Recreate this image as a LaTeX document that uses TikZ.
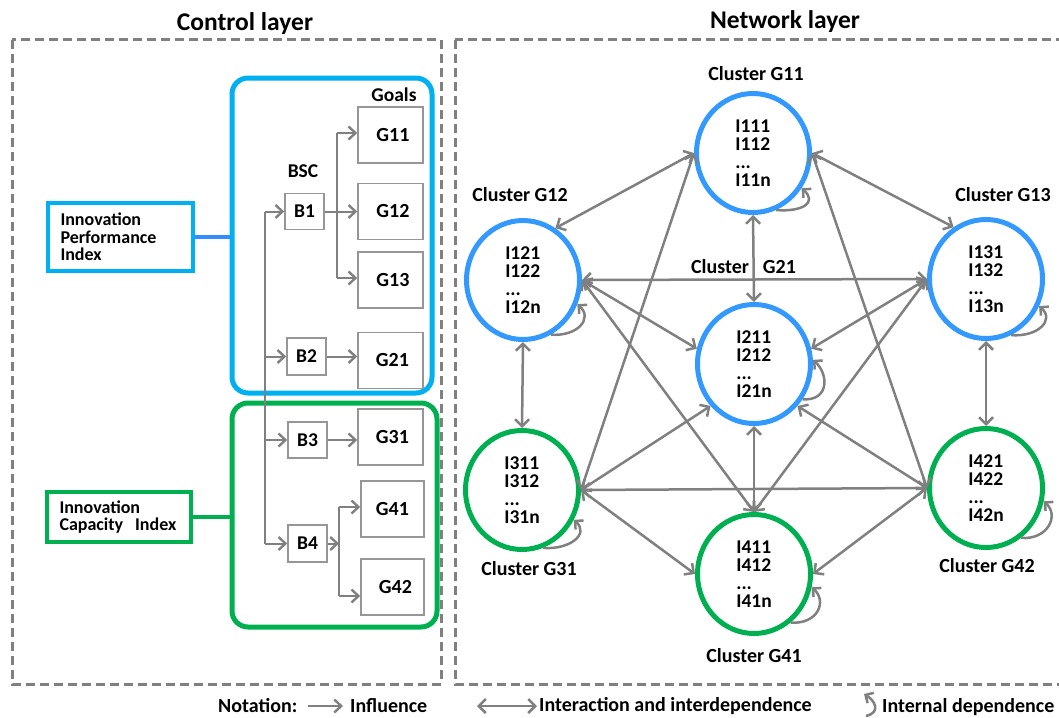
\documentclass[tikz,border=0pt]{standalone}
\usepackage{fontspec}
\setmainfont{Carlito}
\usetikzlibrary{arrows.meta,shapes.geometric,calc}
\definecolor{ctrlblue}{RGB}{0,176,240}
\definecolor{linkblue}{RGB}{51,140,255}
\definecolor{clblue}{RGB}{51,153,255}
\definecolor{clgreen}{RGB}{0,176,80}
\definecolor{edgegray}{RGB}{128,128,128}
\definecolor{boxgray}{RGB}{150,150,150}

\begin{document}
\begin{tikzpicture}[x=1pt,y=-1pt,
  font=\bfseries,
  layerbox/.style={draw=edgegray, line width=3pt, dash pattern=on 9pt off 5pt},
  title/.style={inner sep=0pt, font=\bfseries\fontsize{25.5}{28}\selectfont},
  plain/.style={inner sep=0pt, font=\bfseries\fontsize{19.5}{21}\selectfont},
  goalbox/.style={draw=boxgray, line width=1.5pt, minimum width=65pt, minimum height=56pt,
    inner sep=0pt, font=\bfseries\fontsize{20}{22}\selectfont},
  bscbox/.style={draw=boxgray, line width=1.5pt, minimum width=39pt, minimum height=36pt,
    inner sep=0pt, font=\bfseries\fontsize{19.5}{21}\selectfont},
  groupbox/.style={rectangle, rounded corners=16pt, line width=5pt},
  indexbox/.style={line width=4pt, inner xsep=13pt, inner ysep=0pt, text width=119pt,
    align=left, font=\bfseries\fontsize{18}{17.5}\selectfont},
  trunk/.style={draw=edgegray, line width=1.6pt},
  flow/.style={draw=edgegray, line width=2pt, -{Straight Barb[length=7pt,width=13pt,line width=2.4pt]}},
  link/.style={draw=edgegray, line width=2.5pt,
    {Straight Barb[length=7pt,width=14pt]}-{Straight Barb[length=7pt,width=14pt]}},
  selfloop/.style={draw=edgegray, line width=2.5pt, -{Straight Barb[length=6pt,width=12pt]}},
  cluster/.style={ellipse, line width=5pt, minimum width=113pt, minimum height=119pt,
    inner sep=0pt, align=left, font=\bfseries\fontsize{19.5}{18}\selectfont},
  bluecl/.style={cluster, draw=clblue},
  greencl/.style={cluster, draw=clgreen},
  cltitle/.style={inner sep=0pt, font=\bfseries\fontsize{20}{21}\selectfont},
  notetext/.style={inner sep=0pt, anchor=west, font=\bfseries\fontsize{20}{22}\selectfont},
]
\useasboundingbox (0,0) rectangle (1059,717);

% ---------- layer frames ----------
\draw[layerbox] (12,40) rectangle (441,684);
\draw[layerbox] (455,40) rectangle (1075,684);
\node[title] (ctrltitle) at (245,24) {Control layer};
\node[title] (nettitle) at (785,22) {Network layer};

% ---------- control layer ----------
\node[groupbox, draw=ctrlblue, minimum width=200pt, minimum height=315pt] (perf) at (332,235.5) {};
\node[groupbox, draw=clgreen, minimum width=205pt, minimum height=224pt] (capa) at (334.5,515) {};

\node[indexbox, draw=ctrlblue, minimum height=68pt] (ipi) at (120,237)
  {Innovation\\Performance\\Index};
\node[indexbox, draw=clgreen, minimum height=50pt, text width=118pt] (ici) at (118.5,517)
  {Innovation\\Capacity\ \ Index};
\draw[draw=linkblue, line width=4pt] (ipi.east) -- (ipi.east -| perf.west);
\draw[draw=clgreen, line width=4pt] (ici.east) -- (ici.east -| capa.west);

\node[plain] (goals) at (394,95) {Goals};
\node[plain] (bsc) at (303,171) {BSC};

\node[goalbox] (g11) at (390.5,135) {\hspace{5pt}G11};
\node[goalbox] (g12) at (390.5,211.5) {\hspace{5pt}G12};
\node[goalbox] (g13) at (390.5,280) {\hspace{5pt}G13};
\node[goalbox] (g21) at (390.5,360.5) {\hspace{4pt}G21};
\node[goalbox] (g31) at (390.5,437) {\hspace{4pt}G31};
\node[goalbox, minimum width=63pt] (g41) at (392.5,509) {G41};
\node[goalbox, minimum width=63pt] (g42) at (392.5,587) {\hspace{6pt}G42};

\node[bscbox] (b1) at (304.5,211.5) {B1};
\node[bscbox, minimum height=37pt] (b2) at (306.5,356.5) {B2};
\node[bscbox] (b3) at (307.5,440) {B3};
\node[bscbox, minimum height=37pt] (b4) at (307.5,543.5) {B4};

% trunk feeding the four BSC perspectives
\coordinate (trunktop) at (265,211.5);
\coordinate (trunkbot) at (265,543.5);
\draw[trunk] (trunktop) -- (trunkbot);
\draw[flow] (trunktop) -- (b1.west);
\draw[flow] (b2.west -| trunktop) -- (b2.west);
\draw[flow] (b3.west -| trunktop) -- (b3.west);
\draw[flow] (trunkbot) -- (b4.west);

% B1 fans out to G11, G12, G13
\coordinate (br1top) at (337,133);
\coordinate (br1bot) at (337,278);
\draw[trunk] (br1top) -- (br1bot);
\draw[flow] (b1.east) -- (g12.west);
\draw[flow] (br1top) -- (br1top -| g11.west);
\draw[flow] (br1bot) -- (br1bot -| g13.west);

% B2, B3 single goals
\draw[flow] (b2.east) -- (b2.east -| g21.west);
\draw[flow] (b3.east) -- (b3.east -| g31.west);

% B4 fans out to G41, G42
\coordinate (br4) at (339,543.5);
\coordinate (br4top) at (339,507);
\coordinate (br4bot) at (339,596);
\draw[flow] (b4.east) -- (br4);
\draw[trunk] (br4top) -- (br4bot);
\draw[flow] (br4top) -- (br4top -| g41.west);
\draw[flow] (br4bot) -- (br4bot -| g42.west);

% ---------- network layer ----------
\node[bluecl] (c11) at (753,153) {I111\\I112\\...\\I11n};
\node[bluecl] (c12) at (523,280) {I121\\I122\\...\\I12n};
\node[bluecl] (c13) at (986,279) {I131\\I132\\...\\I13n};
\node[bluecl] (c21) at (754,364) {I211\\I212\\...\\I21n};
\node[greencl] (c31) at (522,490) {I311\\I312\\...\\I31n};
\node[greencl] (c41) at (754,574) {I411\\I412\\...\\I41n};
\node[greencl] (c42) at (986,488) {I421\\I422\\...\\I42n};

\node[cltitle] (t11) at (756,74) {Cluster G11};
\node[cltitle] (t12) at (520,195) {Cluster G12};
\node[cltitle] (t13) at (1003,195) {Cluster G13};
\node[cltitle] (t21) at (743.5,267) {Cluster\hspace{14pt}G21};
\node[cltitle] (t31) at (529,569) {Cluster G31};
\node[cltitle] (t41) at (754,656) {Cluster G41};
\node[cltitle] (t42) at (987,566) {Cluster G42};

% interactions between clusters
\draw[link] (c11.west) -- (c12.58);
\draw[link] (c11.east) -- (c13.122);
\draw[link] (c11.south) -- (c21.north);
\draw[link] (c11.west) -- (c31.east);
\draw[link] (c11.east) -- (c42.west);
\draw[link] (c12.east) -- (c13.west);
\draw[link] (c12.east) -- (c21.165);
\draw[link] (c12.east) -- (c41.north);
\draw[link] (c13.west) -- (c21.15);
\draw[link] (c13.west) -- (c41.north);
\draw[link] (c12.south) -- (c31.north);
\draw[link] (c13.south) -- (c42.north);
\draw[link] (c21.-136) -- (c31.east);
\draw[link] (c21.-44) -- (c42.west);
\draw[link] (c21.south) -- (c41.north);
\draw[link] (c31.east) -- (c42.west);
\draw[link] (c31.east) -- (c41.west);
\draw[link] (c42.west) -- (c41.east);

% internal dependences: node / start angle / end angle
\foreach \c/\s/\e in {c11/-68/-36, c12/-63/-24, c13/-66/-27, c21/-36/4,
                      c31/-70/-30, c41/-53/-13, c42/-55/-13}
  \draw[selfloop] (\c.\s) .. controls +(27,2) and +(16,14) .. (\c.\e);

% ---------- notation ----------
\node[notetext] (notation) at (218,706) {Notation:};
\coordinate (inflA) at (308,706);
\coordinate (inflB) at (343,706);
\draw[flow] (inflA) -- (inflB);
\node[notetext] (infl) at (350,706) {Influence};
\coordinate (interA) at (477,706);
\coordinate (interB) at (537,706);
\draw[link] (interA) -- (interB);
\node[notetext] (inter) at (539,706) {Interaction and interdependence};
\coordinate (idA) at (866,716);
\coordinate (idB) at (864,694);
\draw[selfloop] (idA) .. controls +(16,-4) and +(10,6) .. (idB);
\node[notetext] (intd) at (882,707) {Internal dependence};
\end{tikzpicture}
\end{document}
